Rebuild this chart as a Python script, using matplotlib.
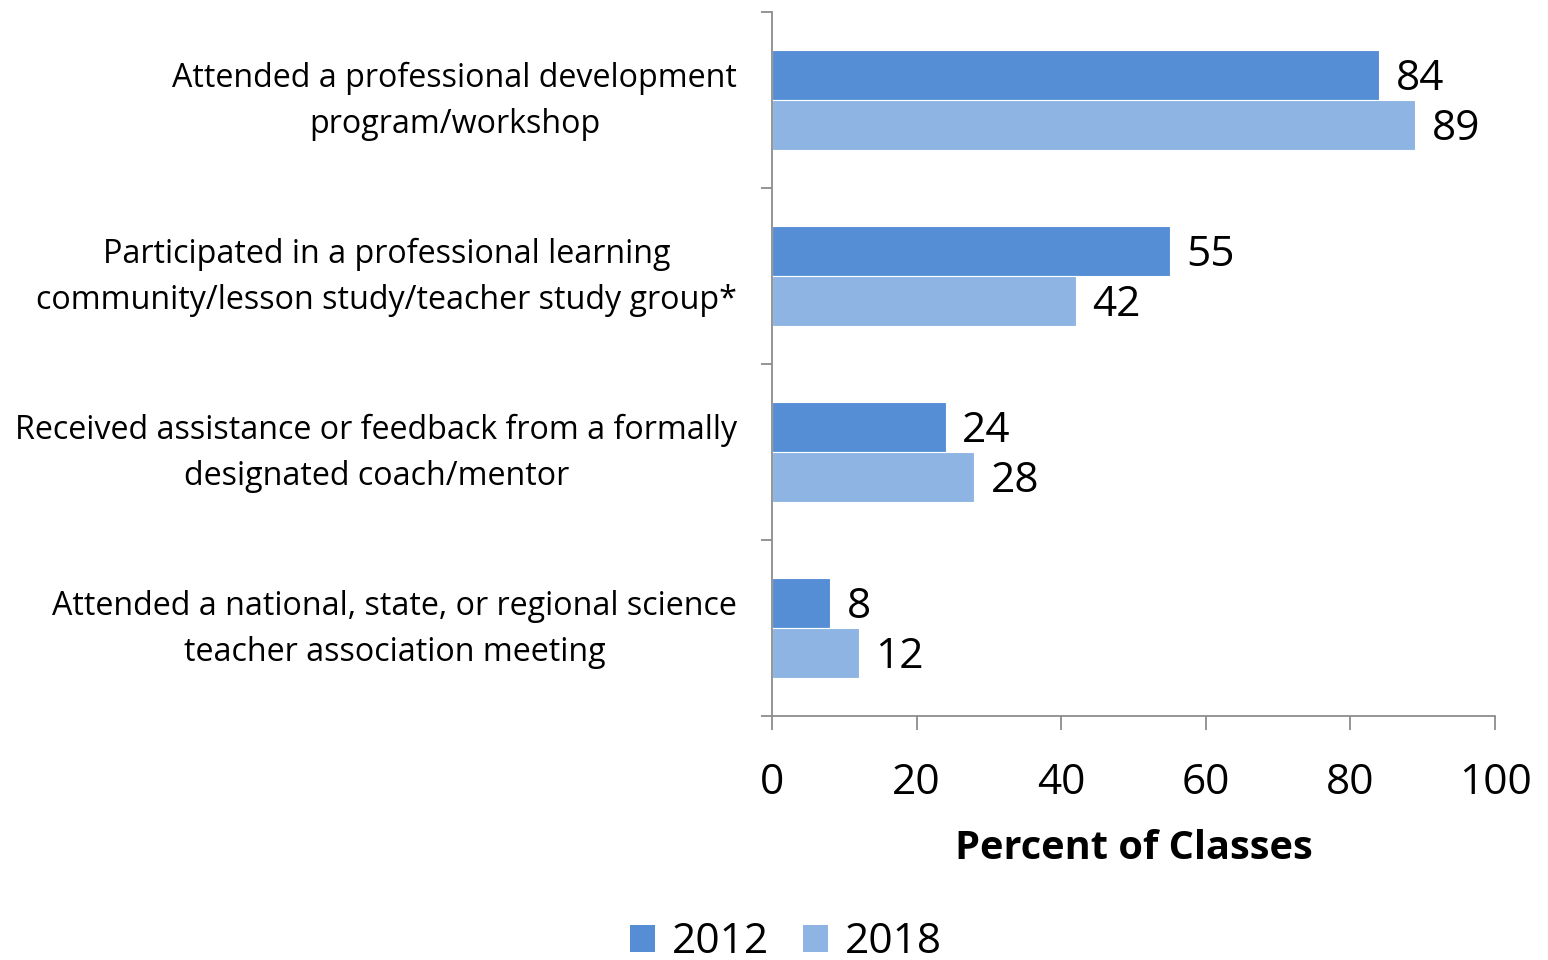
import matplotlib
matplotlib.use("Agg")
import matplotlib.pyplot as plt
from matplotlib.patches import Patch
from matplotlib.transforms import ScaledTranslation
import numpy as np

plt.rcParams['font.family'] = ['Open Sans', 'DejaVu Sans']

categories = [
    "Attended a professional development\nprogram/workshop",
    "Participated in a professional learning\ncommunity/lesson study/teacher study group*",
    "Received assistance or feedback from a formally\ndesignated coach/mentor",
    "Attended a national, state, or regional science\nteacher association meeting",
]
series_names = ["2012", "2018"]
values_2012 = [84, 55, 24, 8]
values_2018 = [89, 42, 28, 12]
x_ticks = [0, 20, 40, 60, 80, 100]
x_label = "Percent of Classes"

c2012 = "#558ED5"
c2018 = "#8EB4E3"
axis_color = "#8C8C8C"

fig = plt.figure(figsize=(15.48, 9.6), dpi=100)
ax = fig.add_axes([772/1548, 1-716/960, (1495-772)/1548, (716-12)/960])

y = np.arange(len(categories))
h = 0.284
ax.barh(y - h/2, values_2012, height=h, color=c2012, edgecolor="white", linewidth=0.8)
ax.barh(y + h/2, values_2018, height=h, color=c2018, edgecolor="white", linewidth=0.8)

down = ScaledTranslation(0, -4/100, fig.dpi_scale_trans)
for yi, v in zip(y, values_2012):
    ax.text(v + 2.3, yi - h/2, str(v), va="center", ha="left", fontsize=30.5,
            transform=ax.transData + down)
for yi, v in zip(y, values_2018):
    ax.text(v + 2.3, yi + h/2, str(v), va="center", ha="left", fontsize=30.5,
            transform=ax.transData + down)

ax.set_xlim(0, 100)
ax.set_ylim(len(categories) - 0.5, -0.5)
ax.set_xticks(x_ticks)
ax.set_xticklabels([str(t) for t in x_ticks], fontsize=30.5)
ax.set_yticks(y)
ax.set_yticklabels(categories, fontsize=23.2, multialignment="center", linespacing=1.52)
ax.set_yticks(np.arange(len(categories) + 1) - 0.5, minor=True)
ax.tick_params(axis="y", which="major", length=0, pad=25)
ax.tick_params(axis="y", which="minor", length=8, width=1.3, color=axis_color)
ax.tick_params(axis="x", which="major", length=10, width=1.3, color=axis_color, pad=23)

up = ScaledTranslation(0, 9/100, fig.dpi_scale_trans)
for lab in ax.get_yticklabels():
    lab.set_transform(lab.get_transform() + up)

for s in ["top", "right"]:
    ax.spines[s].set_visible(False)
for s in ["left", "bottom"]:
    ax.spines[s].set_color(axis_color)
    ax.spines[s].set_linewidth(1.3)

ax.set_xlabel(x_label, fontsize=28.6, fontweight="bold", labelpad=18)

handles = [Patch(facecolor=c2012, edgecolor="none"), Patch(facecolor=c2018, edgecolor="none")]
fig.legend(handles, series_names, loc="center", bbox_to_anchor=(786/1548, 1-942/960),
           ncol=2, frameon=False, fontsize=30.5, handlelength=0.6, handleheight=0.6,
           handletextpad=0.4, columnspacing=0.8)

fig.savefig("out.png", dpi=100)
